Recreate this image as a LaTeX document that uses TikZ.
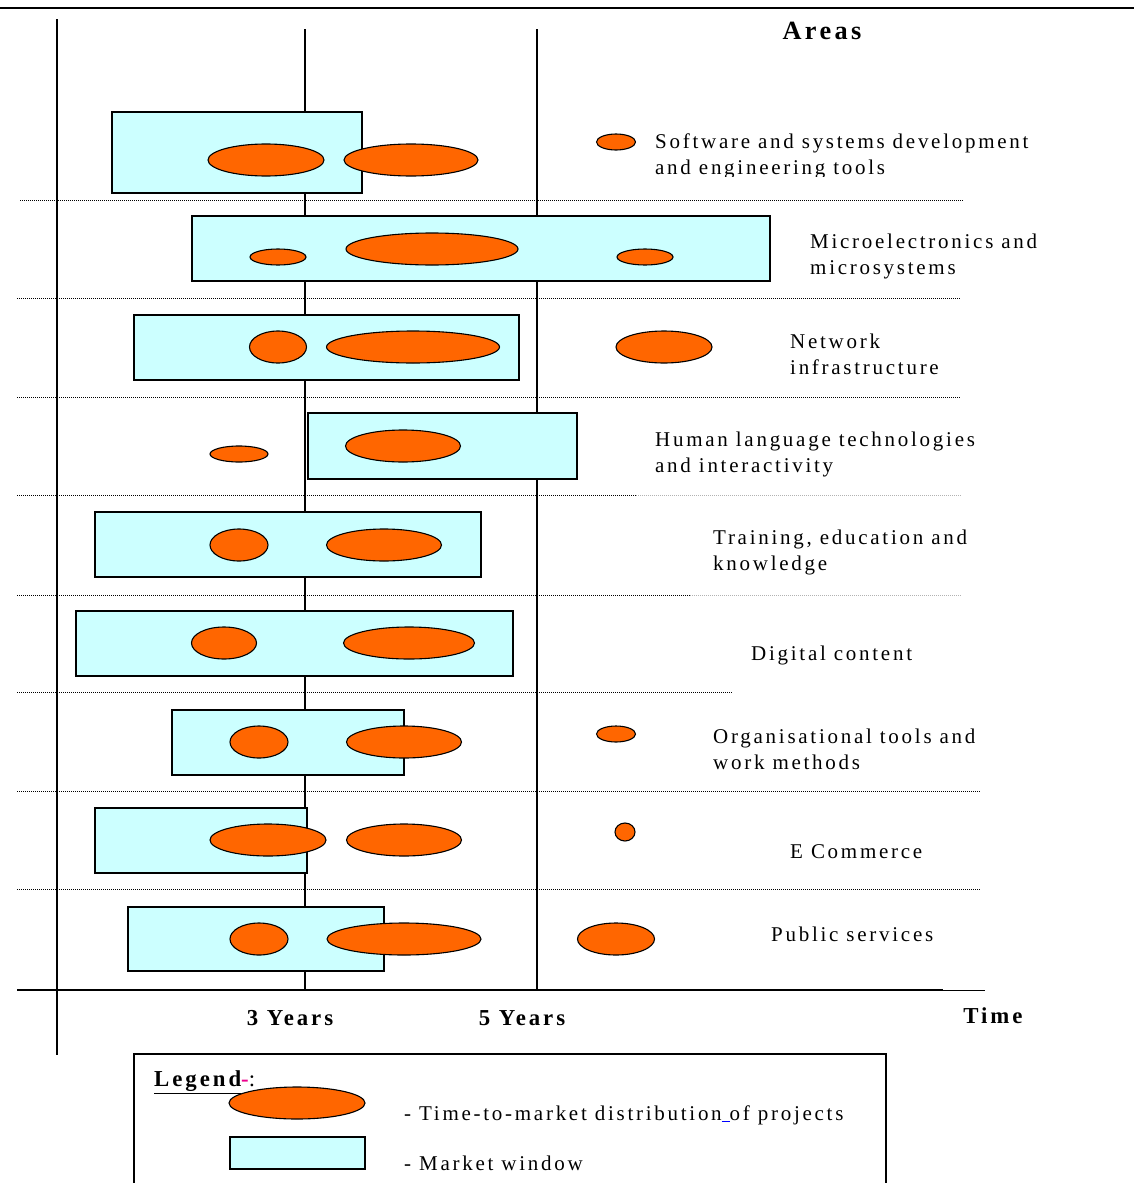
\documentclass[tikz,border=0pt]{standalone}
\usepackage{fontspec}
\setmainfont{Liberation Serif}[LetterSpace=13]
\usetikzlibrary{shapes.geometric}
\usepackage{xcolor}
\definecolor{winfill}{HTML}{CCFFFF}
\definecolor{projfill}{HTML}{FF6600}

\begin{document}
\begin{tikzpicture}[
  x=1pt, y=-1pt,
  win/.style={draw, fill=winfill, line width=1.3pt, inner sep=0pt},
  proj/.style={draw, ellipse, fill=projfill, line width=1.1pt, inner sep=0pt},
  area/.style={anchor=west, align=left, inner sep=0pt, font=\fontsize{21}{26}\selectfont},
  head/.style={inner sep=0pt, font=\fontsize{22.8}{26}\selectfont\bfseries},
  axis/.style={line width=1.5pt},
  sep/.style={line width=0.8pt, dash pattern=on 1pt off 1pt},
  seplight/.style={sep, gray!60}
]
\useasboundingbox (0,0) rectangle (1134,1183);

% frame and axes
\draw[line width=2pt] (0,8) -- (1134,8);
\draw[axis] (57,19) -- (57,1055);
\draw[axis] (305,29) -- (305,990);
\draw[axis] (537,29) -- (537,990);
\draw[axis] (17,990) -- (943,990);
\draw[line width=0.8pt] (943,990) -- (985,990);

% row separators
\draw[sep] (20,200) -- (963,200);
\draw[sep] (17,298) -- (961,298);
\draw[sep] (17,397) -- (961,397);
\draw[sep] (17,495) -- (636,495);
\draw[seplight] (636,495) -- (961,495);
\draw[sep] (17,595) -- (690,595);
\draw[seplight] (690,595) -- (961,595);
\draw[sep] (17,692) -- (732,692);
\draw[sep] (17,791) -- (980,791);
\draw[sep] (17,889) -- (980,889);

\node[head, font=\fontsize{26.3}{28}\selectfont\bfseries] (areas) at (822,31) {Areas};

% software and systems development
\node[win, minimum width=250pt, minimum height=81pt] (w1) at (237,152.5) {};
\node[proj, minimum width=116pt, minimum height=32pt] (p1a) at (266,160) {};
\node[proj, minimum width=134pt, minimum height=32pt] (p1b) at (411,160) {};
\node[proj, minimum width=39pt, minimum height=16pt] (p1c) at (616,142) {};
\begin{scope}
  \clip (640,120) rectangle (1050,176);
  \node[area] (a1) at (655,156.5) {Software and systems development\\and engineering tools};
\end{scope}

% microelectronics
\node[win, minimum width=578pt, minimum height=65pt] (w2) at (481,248.5) {};
\node[proj, minimum width=56pt, minimum height=16pt] (p2a) at (278,257) {};
\node[proj, minimum width=172pt, minimum height=32pt] (p2b) at (432,249) {};
\node[proj, minimum width=56pt, minimum height=16pt] (p2c) at (645,257) {};
\node[area] (a2) at (810,256.5) {Microelectronics and\\microsystems};

% network
\node[win, minimum width=385pt, minimum height=65pt] (w3) at (326.5,347.5) {};
\node[proj, minimum width=57pt, minimum height=32pt] (p3a) at (278,347) {};
\node[proj, minimum width=173pt, minimum height=32pt] (p3b) at (413,347) {};
\node[proj, minimum width=96pt, minimum height=32pt] (p3c) at (664,347) {};
\node[area] (a3) at (790,354) {Network\\infrastructure};

% human language
\node[win, minimum width=269pt, minimum height=66pt] (w4) at (442.5,446) {};
\node[proj, minimum width=58pt, minimum height=16pt] (p4a) at (239,454) {};
\node[proj, minimum width=115pt, minimum height=32pt] (p4b) at (403,446) {};
\node[area] (a4) at (655,454) {Human language technologies\\and interactivity};

% training
\node[win, minimum width=386pt, minimum height=65pt] (w5) at (288,544.5) {};
\node[proj, minimum width=58pt, minimum height=32pt] (p5a) at (239,545) {};
\node[proj, minimum width=115pt, minimum height=32pt] (p5b) at (384,545) {};
\node[area] (a5) at (713,552.5) {Training, education and\\knowledge};

% digital content
\node[win, minimum width=437pt, minimum height=65pt] (w6) at (294.5,643.5) {};
\node[proj, minimum width=65pt, minimum height=32pt] (p6a) at (224,643) {};
\node[proj, minimum width=131pt, minimum height=32pt] (p6b) at (409,643) {};
\node[area] (a6) at (751,655) {Digital content};

% organisational tools
\node[win, minimum width=232pt, minimum height=65pt] (w7) at (288,742.5) {};
\node[proj, minimum width=58pt, minimum height=32pt] (p7a) at (259,742) {};
\node[proj, minimum width=115pt, minimum height=32pt] (p7b) at (404,742) {};
\node[proj, minimum width=39pt, minimum height=16pt] (p7c) at (616,734) {};
\node[area] (a7) at (713,749) {Organisational tools and\\work methods};

% e commerce
\node[win, minimum width=212pt, minimum height=65pt] (w8) at (201,840.5) {};
\node[proj, minimum width=116pt, minimum height=32pt] (p8a) at (268,840) {};
\node[proj, minimum width=115pt, minimum height=32pt] (p8b) at (404,840) {};
\node[proj, minimum width=20pt, minimum height=18pt] (p8c) at (625,832) {};
\node[area] (a8) at (790,852) {E Commerce};

% public services
\node[win, minimum width=256pt, minimum height=64pt] (w9) at (256,939) {};
\node[proj, minimum width=58pt, minimum height=32pt] (p9a) at (259,939) {};
\node[proj, minimum width=154pt, minimum height=32pt] (p9b) at (404,939) {};
\node[proj, minimum width=77pt, minimum height=32pt] (p9c) at (616,939) {};
\node[area] (a9) at (771,934) {Public services};

% time axis labels
\node[head] (y3) at (290,1018) {3 Years};
\node[head] (y5) at (522,1018) {5 Years};
\node[head] (time) at (993,1016) {Time};

% legend
\draw[line width=1.5pt] (134,1190) |- (886,1054) -- (886,1190);
\node[head, anchor=west] (leg) at (154,1082) {\underline{Legend}\textcolor{magenta}{-}\textmd{:}};
\node[proj, minimum width=136pt, minimum height=32pt] (lp) at (297,1103) {};
\node[win, minimum width=135pt, minimum height=32pt] (lw) at (297.5,1153) {};
\node[area] (lpt) at (404,1115) {- Time-to-market distribution\textcolor{blue}{\underline{\ }}of projects};
\node[area] (lwt) at (404,1163) {- Market window};
\end{tikzpicture}
\end{document}
